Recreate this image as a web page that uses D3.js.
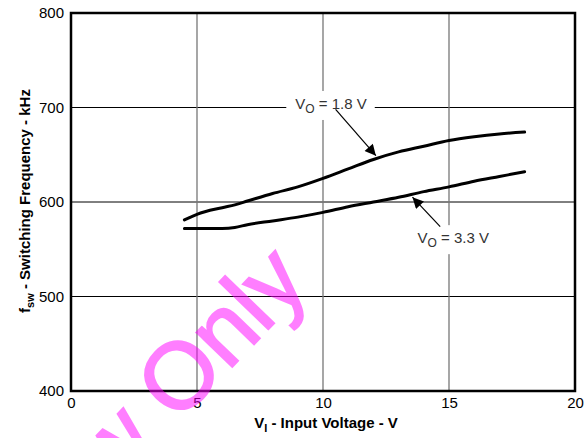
<!DOCTYPE html>
<html>
<head>
<meta charset="utf-8">
<script src="https://cdn.jsdelivr.net/npm/d3@7"></script>
<style>
  body { margin: 0; background: #fff; }
  svg { display: block; font-family: "Liberation Sans", Arial, sans-serif; }
</style>
</head>
<body>
<svg id="chart" width="587" height="438"></svg>
<script>
// Input voltage (V) where the curves were sampled
const inputVoltage = [4.5, 5, 6, 6.5, 7, 8, 9, 10, 11, 12, 13, 14, 15, 16, 17, 18];

// Switching frequency (kHz) for each output voltage
const freqVo18 = [581, 587, 594, 597, 601, 609, 616, 625, 635, 645, 653, 659, 665, 669, 672, 674];
const freqVo33 = [572, 572, 572, 573, 576, 580, 584, 589, 595, 600, 605, 611, 616, 622, 627, 632];

// Axis ticks
const xTicks = [0, 5, 10, 15, 20];
const yTicks = [400, 500, 600, 700, 800];

// Curve labels and the input voltage the arrow points at
const labels = [
    { sub: "O", rest: " = 1.8 V", series: freqVo18, at: 12.1 },
    { sub: "O", rest: " = 3.3 V", series: freqVo33, at: 13.55 }
];

const svg = d3.select("#chart");
const margin = { top: 13, right: 12, bottom: 47, left: 71 };
const width = 587, height = 438;

// Scales
const x = d3.scaleLinear().domain([0, 20]).range([margin.left, width - margin.right]);
const y = d3.scaleLinear().domain([400, 800]).range([height - margin.bottom, margin.top]);

svg.append("rect").attr("width", width).attr("height", height).attr("fill", "#fff");

// Grid lines
svg.append("g")
    .selectAll("line")
    .data(yTicks.slice(1, -1))
    .join("line")
    .attr("x1", x(0)).attr("x2", x(20))
    .attr("y1", d => y(d)).attr("y2", d => y(d))
    .attr("stroke", "#000").attr("stroke-width", 1);

svg.append("g")
    .selectAll("line")
    .data(xTicks.slice(1, -1))
    .join("line")
    .attr("x1", d => x(d)).attr("x2", d => x(d))
    .attr("y1", y(400)).attr("y2", y(800))
    .attr("stroke", "#777").attr("stroke-width", 1.3);

// Axes (labels only, frame drawn separately)
const xAxis = svg.append("g")
    .attr("transform", `translate(0, ${y(400)})`)
    .call(d3.axisBottom(x).tickValues(xTicks).tickSize(0).tickPadding(6));
xAxis.select(".domain").remove();
xAxis.selectAll("text").attr("font-size", 15).attr("fill", "#000")
    .attr("font-family", "Liberation Sans, Arial, sans-serif");

const yAxis = svg.append("g")
    .attr("transform", `translate(${x(0)}, 0)`)
    .call(d3.axisLeft(y).tickValues(yTicks).tickSize(0).tickPadding(7));
yAxis.select(".domain").remove();
yAxis.selectAll("text").attr("font-size", 15).attr("fill", "#000")
    .attr("font-family", "Liberation Sans, Arial, sans-serif");

// Frame
svg.append("rect")
    .attr("x", x(0)).attr("y", y(800))
    .attr("width", x(20) - x(0)).attr("height", y(400) - y(800))
    .attr("fill", "none").attr("stroke", "#000").attr("stroke-width", 2.5);

// Curves
const line = d3.line()
    .x((d, i) => x(inputVoltage[i]))
    .y(d => y(d))
    .curve(d3.curveMonotoneX);

[freqVo18, freqVo33].forEach(series => {
    svg.append("path")
        .datum(series)
        .attr("d", line)
        .attr("fill", "none")
        .attr("stroke", "#000")
        .attr("stroke-width", 3)
        .attr("stroke-linecap", "round");
});

// Arrow marker
svg.append("defs").append("marker")
    .attr("id", "arrow")
    .attr("viewBox", "0 0 10 10")
    .attr("refX", 10).attr("refY", 5)
    .attr("markerWidth", 14).attr("markerHeight", 11)
    .attr("markerUnits", "userSpaceOnUse")
    .attr("orient", "auto")
    .append("path")
    .attr("d", "M0,0 L10,5 L0,10 Z")
    .attr("fill", "#000");

// Label text position and arrow start, in data space
const labelPos = [
    { tx: 8.9, tf: 704, ax: 10.5, af: 698 },
    { tx: 13.75, tf: 562, ax: 14.65, af: 574 }
];

labels.forEach((lb, k) => {
    const p = labelPos[k];
    const i = d3.bisectLeft(inputVoltage, lb.at);
    const t = (lb.at - inputVoltage[i - 1]) / (inputVoltage[i] - inputVoltage[i - 1]);
    const fAt = lb.series[i - 1] + t * (lb.series[i] - lb.series[i - 1]);

    const g = svg.append("g");
    const txt = g.append("text")
        .attr("x", x(p.tx)).attr("y", y(p.tf))
        .attr("font-size", 15).attr("fill", "#333")
        .attr("dy", "0.35em");
    txt.append("tspan").text("V");
    txt.append("tspan").attr("font-size", 12).attr("dy", "4").text(lb.sub);
    txt.append("tspan").attr("dy", "-4").text(lb.rest);

    const bb = txt.node().getBBox();
    g.insert("rect", "text")
        .attr("x", bb.x - 9).attr("y", bb.y - 4)
        .attr("width", bb.width + 17).attr("height", bb.height + 8)
        .attr("fill", "#fff");

    svg.append("line")
        .attr("x1", x(p.ax)).attr("y1", y(p.af))
        .attr("x2", x(lb.at)).attr("y2", y(fAt) + (k === 0 ? -3 : 3))
        .attr("stroke", "#000").attr("stroke-width", 1.2)
        .attr("marker-end", "url(#arrow)");
});

// Axis titles
const xTitle = svg.append("text")
    .attr("x", 326).attr("y", 428)
    .attr("text-anchor", "middle")
    .attr("font-size", 15).attr("font-weight", "bold");
xTitle.append("tspan").text("V");
xTitle.append("tspan").attr("font-size", 11).attr("dy", 4).text("I");
xTitle.append("tspan").attr("dy", -4).text(" - Input Voltage - V");

const yTitle = svg.append("text")
    .attr("transform", "translate(30, 201) rotate(-90)")
    .attr("text-anchor", "middle")
    .attr("font-size", 15).attr("font-weight", "bold");
yTitle.append("tspan").text("f");
yTitle.append("tspan").attr("font-size", 11).attr("dy", 4).text("sw");
yTitle.append("tspan").attr("dy", -4).text(" - Switching Frequency - kHz");

// Watermark
const wm = svg.append("g")
    .attr("transform", "translate(177, 424) rotate(-46)")
    .attr("fill", "#ff00ff").attr("stroke", "#ff00ff").attr("stroke-width", 2)
    .attr("opacity", 0.5)
    .attr("font-size", 94);
wm.append("text").attr("x", 0).text("Only");
wm.append("text").attr("x", -26).attr("text-anchor", "end").text("Preview");
</script>
</body>
</html>
